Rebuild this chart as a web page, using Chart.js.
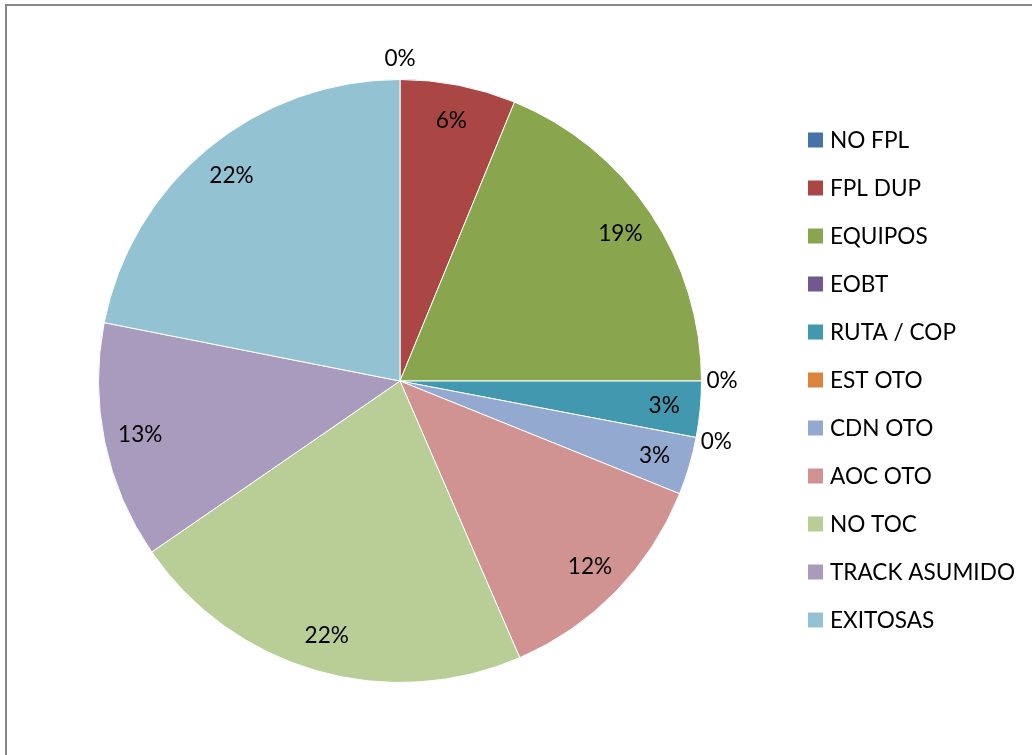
<!DOCTYPE html>
<html>
<head>
<meta charset="utf-8">
<script src="https://cdn.jsdelivr.net/npm/chart.js@4/dist/chart.umd.min.js"></script>
<style>
  html, body { margin: 0; padding: 0; background: #fff; overflow: hidden; }
  #frame { position: absolute; left: 5px; top: 4px; width: 2000px; height: 2000px;
           border-left: 2px solid #878787; border-top: 2px solid #878787; }
  #c { position: absolute; left: 0; top: 0; }
</style>
</head>
<body>
<div id="frame"></div>
<canvas id="c" width="1032" height="755"></canvas>
<script>
const categories = ["NO FPL", "FPL DUP", "EQUIPOS", "EOBT", "RUTA / COP", "EST OTO",
                    "CDN OTO", "AOC OTO", "NO TOC", "TRACK ASUMIDO", "EXITOSAS"];
const values = [0, 6.2, 18.8, 0, 3.0, 0, 3.1, 12.4, 21.9, 12.7, 21.9];
const colors = ["#4572A7", "#AA4643", "#89A54E", "#71588F", "#4198AF", "#DB843D",
                "#93A9CF", "#D19392", "#B9CD96", "#A99BBD", "#93C3D3"];

const FONT = '"Lato", "Liberation Sans", sans-serif';
const FONT_SIZE = 22.6;

const labelPlugin = {
  id: 'pctLabels',
  afterDatasetsDraw(chart) {
    const ctx = chart.ctx;
    const meta = chart.getDatasetMeta(0);
    const data = chart.data.datasets[0].data;
    const total = data.reduce((a, b) => a + b, 0);
    ctx.save();
    ctx.font = FONT_SIZE + 'px ' + FONT;
    ctx.fillStyle = '#000';
    ctx.textAlign = 'center';
    ctx.textBaseline = 'middle';
    meta.data.forEach((arc, i) => {
      const p = arc.getProps(['x', 'y', 'startAngle', 'endAngle', 'outerRadius'], true);
      const mid = (p.startAngle + p.endAngle) / 2;
      const pct = Math.round(data[i] / total * 100);
      const r = data[i] === 0 ? p.outerRadius * 1.068 : p.outerRadius * 0.88;
      ctx.fillText(pct + '%', p.x + Math.cos(mid) * r, p.y + Math.sin(mid) * r);
    });
    ctx.restore();
  }
};

const legendPlugin = {
  id: 'sideLegend',
  afterDraw(chart) {
    const ctx = chart.ctx;
    ctx.save();
    ctx.font = FONT_SIZE + 'px ' + FONT;
    ctx.textAlign = 'left';
    ctx.textBaseline = 'middle';
    chart.data.labels.forEach((lab, i) => {
      const y = 140 + i * 48;
      ctx.fillStyle = chart.data.datasets[0].backgroundColor[i];
      ctx.fillRect(808, y - 7.5, 15, 15);
      ctx.fillStyle = '#000';
      ctx.fillText(lab, 830, y + 1);
    });
    ctx.restore();
  }
};

new Chart(document.getElementById('c'), {
  type: 'pie',
  data: {
    labels: categories,
    datasets: [{
      data: values,
      backgroundColor: colors,
      borderColor: '#ffffff',
      borderWidth: 1
    }]
  },
  options: {
    responsive: false,
    animation: false,
    layout: { padding: { left: 98, right: 330, top: 79, bottom: 72 } },
    plugins: {
      legend: { display: false },
      tooltip: { enabled: false }
    }
  },
  plugins: [labelPlugin, legendPlugin]
});
</script>
</body>
</html>
